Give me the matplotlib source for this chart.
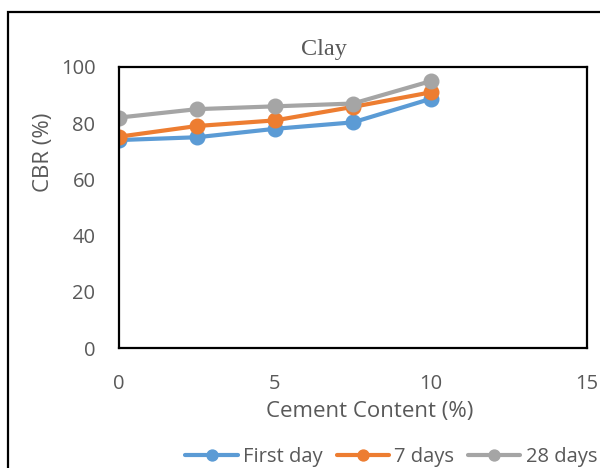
import matplotlib
matplotlib.use("Agg")
import matplotlib.pyplot as plt
from matplotlib.patches import Rectangle

# cement content (%) and CBR (%) readings
cement = [0, 2.5, 5, 7.5, 10]
first_day = [74, 75, 78, 80.3, 88.7]
days_7 = [75.2, 79, 81, 85.8, 91]
days_28 = [82, 85, 86, 87, 95]

series = [
    ("First day", first_day, "#5B9BD5"),
    ("7 days", days_7, "#ED7D31"),
    ("28 days", days_28, "#A5A5A5"),
]

plt.rcParams['font.family'] = ['Open Sans', 'DejaVu Sans']
grey_txt = "#595959"

fig = plt.figure(figsize=(6, 4.68), dpi=100)
ax = fig.add_axes([119 / 600, 1 - 348 / 468, 468 / 600, 281 / 468])

for name, vals, col in series:
    ax.plot(cement, vals, color=col, lw=3, marker='o', ms=10.5,
            label=name, solid_capstyle='round')

ax.set_xlim(0, 15)
ax.set_ylim(0, 100)
ax.set_xticks([0, 5, 10, 15])
ax.set_yticks(range(0, 101, 20))
ax.tick_params(axis='y', length=0, labelsize=14.5, colors=grey_txt, pad=17)
ax.tick_params(axis='x', length=0, labelsize=14.5, colors=grey_txt, pad=19)
for s in ax.spines.values():
    s.set_linewidth(1.6)
    s.set_color("black")

fig.text(324 / 600, 1 - 49 / 468, "Clay", family="Liberation Serif",
         fontsize=17.5, color=grey_txt, ha='center', va='center')
fig.text(370 / 600, 1 - 411 / 468, "Cement Content (%)", fontsize=16,
         color=grey_txt, ha='center', va='center')
fig.text(43 / 600, 1 - 152 / 468, "CBR (%)", fontsize=16, rotation=90,
         color=grey_txt, ha='center', va='center')

leg = fig.legend(loc='center right', bbox_to_anchor=(597 / 600, 1 - 457 / 468),
                 ncol=3, frameon=False, fontsize=14.5, handlelength=2.6,
                 columnspacing=0.7, handletextpad=0.25, borderaxespad=0,
                 borderpad=0, markerscale=0.75)
for t in leg.get_texts():
    t.set_color(grey_txt)

# outer chart frame, running off the right and bottom edges
fig.patches.append(Rectangle((8 / 600, -0.05), 1.2, 1 - 12 / 468 + 0.05,
                             transform=fig.transFigure, fill=False,
                             edgecolor="black", lw=1.6))

fig.savefig("out.png", dpi=100)
